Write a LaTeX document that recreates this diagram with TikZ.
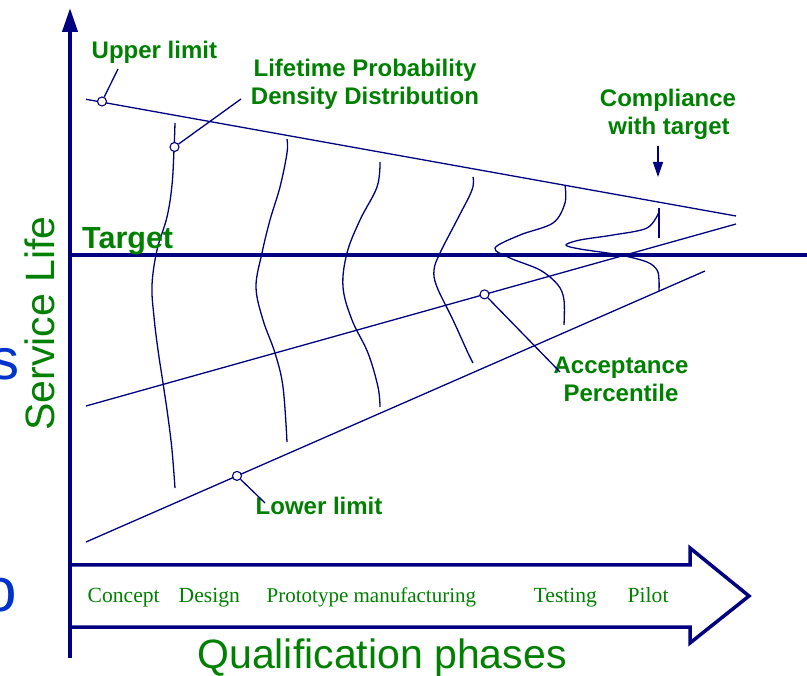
\documentclass[tikz,border=0pt]{standalone}
\usepackage{fontspec}
\setmainfont{Liberation Sans}
\newfontfamily\lserif{Liberation Serif}
\usetikzlibrary{arrows.meta}
\definecolor{navy}{RGB}{0,0,128}
\definecolor{dgreen}{RGB}{0,128,0}
\definecolor{sblue}{RGB}{0,51,204}
\begin{document}
\begin{tikzpicture}[x=1pt,y=-1pt,
  thinl/.style={navy,line width=1.3pt},
  ringmark/.style={circle,draw=navy,fill=white,line width=1.1pt,inner sep=0pt,minimum size=9pt},
  lbl/.style={dgreen,font=\fontsize{24}{28}\selectfont\bfseries,inner sep=0pt},
  phase/.style={dgreen,font=\lserif\fontsize{21.6}{26}\selectfont,inner sep=0pt,anchor=base west},
  big/.style={dgreen,font=\fontsize{41}{48}\selectfont,inner sep=0pt},
  cut/.style={sblue,inner sep=0pt,anchor=base east},
  thickl/.style={navy,line width=4pt}
]
\useasboundingbox (0,0) rectangle (807,676);
\clip (0,0) rectangle (807,676);

% cut-off blue letters at the left edge
\node[cut,font=\fontsize{58}{60}\selectfont] (cs) at (20,380) {s};
\node[cut,font=\fontsize{62}{64}\selectfont] (co) at (17.5,612) {o};

% limit lines
\coordinate (ua) at (86,99.3);  \coordinate (ub) at (736,216);
\coordinate (ma) at (86,406);   \coordinate (mb) at (736,224);
\coordinate (la) at (86,542);   \coordinate (lb) at (705,271);
\draw[thinl] (ua) -- (ub);
\draw[thinl] (ma) -- (mb);
\draw[thinl] (la) -- (lb);

% distributions
\draw[thinl] plot[smooth,tension=0.6] coordinates {(175,123) (174,150) (172,185) (167,217) (157,250) (152,285) (154,317) (158,350) (163,383) (168,417) (172,450) (175,488)};
\draw[thinl] plot[smooth,tension=0.6] coordinates {(287,139) (287,153) (280,187) (270,220) (262,253) (256,287) (263,320) (275,353) (283,387) (287,442)};
\draw[thinl] plot[smooth,tension=0.6] coordinates {(380,162) (377,187) (360,220) (347,253) (343,287) (352,320) (368,353) (378,387) (380,407)};
\draw[thinl] plot[smooth,tension=0.6] coordinates {(473,177) (472,190) (457,220) (440,253) (434,270) (437,287) (453,320) (468,353) (473,363)};
\draw[thinl] plot[smooth,tension=0.55] coordinates {(565,185) (565,203) (553,223) (520,235) (495,248) (510,258) (540,270) (558,285) (564,300) (564,325)};
\draw[thinl] plot[smooth,tension=0.55] coordinates {(659,212) (647,228) (613,235) (580,240) (566,245) (580,249) (620,255) (647,262) (657,270) (659,280) (659,291)};
\coordinate (tk1) at (659,208); \coordinate (tk2) at (659,238);
\draw[thinl] (tk1) -- (tk2);

% target line
\coordinate (ta) at (70,255); \coordinate (tb) at (807,255);
\draw[thickl] (ta) -- (tb);

% vertical axis
\coordinate (ax0) at (70,658); \coordinate (ax1) at (70,8);
\draw[thickl,-{Triangle[length=24pt,width=15pt]}] (ax0) -- (ax1);

% big phase arrow
\coordinate (p1) at (70,565); \coordinate (p2) at (690,565); \coordinate (p3) at (690,548);
\coordinate (p4) at (749,596); \coordinate (p5) at (690,643); \coordinate (p6) at (690,627);
\coordinate (p7) at (70,627);
\draw[navy,line width=3.5pt,line join=miter] (p1) -- (p2) -- (p3) -- (p4) -- (p5) -- (p6) -- (p7);

% marker circles
\node[ringmark] (cu) at (102,101.5) {};
\node[ringmark] (cd) at (174.5,147) {};
\node[ringmark] (cm) at (484.5,294.4) {};
\node[ringmark] (cl) at (237,475.9) {};

% labels
\node[lbl,anchor=base west] (lu) at (91.5,59) {Upper limit};
\node[lbl,anchor=base] (ld1) at (365,77) {Lifetime Probability};
\node[lbl,anchor=base] (ld2) at (365,105) {Density Distribution};
\node[lbl,anchor=base] (lc1) at (668,107) {Compliance};
\node[lbl,anchor=base] (lc2) at (669,135) {with target};
\node[lbl,anchor=base] (la1) at (621,374) {Acceptance};
\node[lbl,anchor=base] (la2) at (621,402) {Percentile};
\node[lbl,anchor=base west] (ll) at (255.5,515) {Lower limit};
\node[dgreen,font=\fontsize{30.5}{34}\selectfont\bfseries,inner sep=0pt,anchor=base west] (tg) at (82,248.5) {Target};

% leaders
\coordinate (eu) at (118,69);
\coordinate (ed) at (241,99);
\coordinate (em) at (560,372);
\coordinate (el) at (265,503);
\draw[thinl] (cu) -- (eu);
\draw[thinl] (cd) -- (ed);
\draw[thinl] (cm) -- (em);
\draw[thinl] (cl) -- (el);

% compliance arrow
\coordinate (ca0) at (658,146); \coordinate (ca1) at (658,177);
\draw[thinl,-{Triangle[length=15pt,width=10pt]}] (ca0) -- (ca1);

% phases
\node[phase] (ph1) at (87.5,602) {Concept};
\node[phase] (ph2) at (178.5,602) {Design};
\node[phase,font=\lserif\fontsize{21}{26}\selectfont] (ph3) at (266.5,602) {Prototype manufacturing};
\node[phase] (ph4) at (533.5,602) {Testing};
\node[phase] (ph5) at (627.5,602) {Pilot};

% axis titles
\node[big,anchor=base] (qp) at (382,668) {Qualification phases};
\node[big,anchor=base,rotate=90] (sl) at (54.5,323.5) {Service Life};
\end{tikzpicture}
\end{document}
